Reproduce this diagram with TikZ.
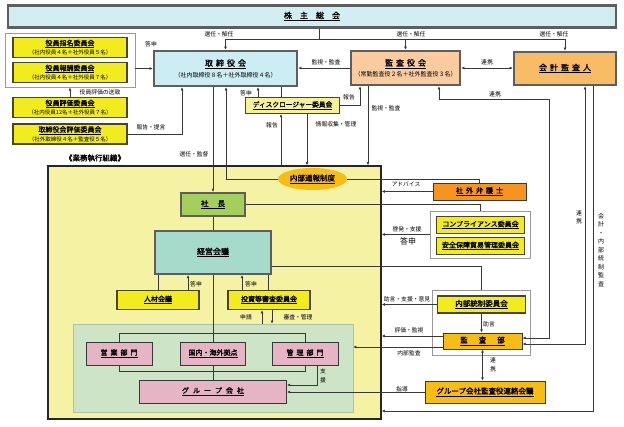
\documentclass[tikz,border=0pt]{standalone}
\usepackage{fontspec}
\setmainfont{Noto Sans CJK JP}[AutoFakeBold=1.6]
\usepackage{tikz}
\usepackage{xcolor}
\usetikzlibrary{arrows.meta,positioning,shapes.geometric}
\newcommand{\cgul}[1]{\underline{\bfseries #1}}
\newcommand{\cgsub}[2][5.5]{{\fontsize{#1}{#1}\selectfont #2}}
\newcommand{\cggap}[1][3pt]{\hspace{#1}}
\definecolor{cgEdge}{HTML}{5E5E5E}
\definecolor{cgLine}{HTML}{383838}
\definecolor{cgOlive}{HTML}{4B461C}
\definecolor{cgYellow}{HTML}{F2EC1F}
\definecolor{cgPale}{HTML}{F7F29A}
\definecolor{cgSky}{HTML}{D3EEF3}
\definecolor{cgBoard}{HTML}{CBEDF3}
\definecolor{cgPeach}{HTML}{FCCB9F}
\definecolor{cgApricot}{HTML}{F9BC66}
\definecolor{cgOrange}{HTML}{F7941F}
\definecolor{cgGold}{HTML}{F7BD16}
\definecolor{cgFrame}{HTML}{F5F2A4}
\definecolor{cgMint}{HTML}{CDE4C6}
\definecolor{cgLeaf}{HTML}{A5CF5C}
\definecolor{cgTeal}{HTML}{A6DBCB}
\definecolor{cgPink}{HTML}{E6B5C5}
\tikzset{
  boardBox/.style={draw=cgEdge, line width=2.3pt, align=center, inner sep=0pt, font=\fontsize{8}{10}\selectfont},
  cmteBox/.style={draw=cgOlive, line width=1.3pt, fill=cgYellow, align=center, inner sep=0pt, font=\fontsize{7}{9}\selectfont},
  unitBox/.style={draw=cgLine, line width=0.9pt, align=center, inner sep=0pt, font=\fontsize{7}{9}\selectfont},
  groupFrame/.style={draw=black!40, line width=0.8pt, fill=white, inner sep=0pt},
  flowArrow/.style={-{Latex[length=3.2pt,width=2.8pt]}, line width=0.6pt, draw=cgLine},
  flowBoth/.style={{Latex[length=3.2pt,width=2.8pt]}-{Latex[length=3.2pt,width=2.8pt]}, line width=0.6pt, draw=cgLine},
  flowLine/.style={line width=0.6pt, draw=cgLine},
  flowLabel/.style={font=\fontsize{5.8}{6.5}\selectfont, inner sep=0.5pt, align=center}
}
\begin{document}
\begin{tikzpicture}[x=1pt,y=-1pt]
  \useasboundingbox (0,0) rectangle (624,427);
  \node[draw=black!85, line width=1.3pt, fill=cgFrame, minimum width=333pt, minimum height=253pt, inner sep=0pt] (frame) at (214.5,292.5) {};
  \node[font=\fontsize{7.5}{9}\selectfont\bfseries, inner sep=0pt] (frameTitle) at (95,158) {《業務執行組織》};
  \node[draw=cgMint!85!black, line width=0.4pt, fill=cgMint, minimum width=280pt, minimum height=88pt, inner sep=0pt] (field) at (213,368) {};

  \node[boardBox, fill=cgSky, minimum width=608pt, minimum height=22pt] (soukai) at (312,16.5) {\cgul{株　主　総　会}};
  \node[groupFrame, minimum width=130pt, minimum height=54pt] (nomGrp) at (70,60) {};
  \node[cmteBox, minimum width=114pt, minimum height=20pt] (shimei) at (70,47.5) {\cgul{役員指名委員会}\\\cgsub{（社内役員４名＋社外役員５名）}};
  \node[cmteBox, minimum width=114pt, minimum height=20pt] (houshu) at (70,72.5) {\cgul{役員報酬委員会}\\\cgsub{（社内役員４名＋社外役員７名）}};
  \node[cmteBox, minimum width=114pt, minimum height=20pt] (hyouka) at (70,107.5) {\cgul{役員評価委員会}\\\cgsub{（社内役員12名＋社外役員７名）}};
  \node[cmteBox, minimum width=114pt, minimum height=20pt] (torihyouka) at (70,134) {\cgul{取締役会評価委員会}\\\cgsub{（社外取締役４名＋監査役５名）}};
  \node[boardBox, fill=cgBoard, minimum width=143pt, minimum height=35pt, font=\fontsize{8}{11}\selectfont] (tori) at (225.5,68.5) {\cgul{取\cggap 締\cggap 役\cggap 会}\\\cgsub[6]{（社内取締役８名＋社外取締役４名）}};
  \node[boardBox, fill=cgPeach, minimum width=109pt, minimum height=34pt, font=\fontsize{8}{10.5}\selectfont] (kansa) at (405.5,68) {\cgul{監\cggap 査\cggap 役\cggap 会}\\\cgsub[6]{（常勤監査役２名＋社外監査役３名）}};
  \node[boardBox, fill=cgApricot, minimum width=102pt, minimum height=33pt] (kaikei) at (565,68.5) {\cgul{会\cggap 計\cggap 監\cggap 査\cggap 人}};
  \node[cmteBox, fill=cgPale, line width=1.1pt, minimum width=94pt, minimum height=16pt, font=\fontsize{6.7}{8}\selectfont] (disc) at (292.5,105.5) {\cgul{ディスクロージャー委員会}};

  \node[ellipse, fill=cgGold, minimum width=69pt, minimum height=22pt, inner sep=0pt, font=\fontsize{7.5}{9}\selectfont] (tsuho) at (312.5,179) {\cgul{内部通報制度}};
  \node[boardBox, fill=cgLeaf, line width=2pt, minimum width=64pt, minimum height=23pt, font=\fontsize{7.5}{9}\selectfont] (shacho) at (213,204.5) {\cgul{社\cggap[9pt]長}};
  \node[boardBox, fill=cgTeal, line width=2pt, minimum width=116pt, minimum height=43pt] (keiei) at (213,252.5) {\cgul{経営会議}};
  \node[cmteBox, minimum width=82pt, minimum height=19pt] (jinzai) at (158,300) {\cgul{人材会議}};
  \node[cmteBox, minimum width=82pt, minimum height=19pt] (toushi) at (269,300) {\cgul{投資等審査委員会}};
  \node[unitBox, fill=cgPink, minimum width=66pt, minimum height=23pt] (eigyo) at (119,353.5) {\cgul{営\cggap 業\cggap 部\cggap 門}};
  \node[unitBox, fill=cgPink, minimum width=65pt, minimum height=23pt] (kyoten) at (213,353.5) {\cgul{国内・海外拠点}};
  \node[unitBox, fill=cgPink, minimum width=66pt, minimum height=23pt] (kanri) at (305,353.5) {\cgul{管\cggap 理\cggap 部\cggap 門}};
  \node[unitBox, fill=cgPink, minimum width=147pt, minimum height=23pt] (group) at (213,391.5) {\cgul{グ\cggap[4pt]ル\cggap[4pt]ー\cggap[4pt]プ\cggap[4pt]会\cggap[4pt]社}};

  \node[unitBox, fill=cgOrange, minimum width=93pt, minimum height=17pt] (bengo) at (479.5,191.5) {\cgul{社\cggap 外\cggap 弁\cggap 護\cggap 士}};
  \node[groupFrame, minimum width=100pt, minimum height=47pt] (compGrp) at (480,234.5) {};
  \node[cmteBox, minimum width=88pt, minimum height=17pt] (comp) at (480.5,225) {\cgul{コンプライアンス委員会}};
  \node[cmteBox, minimum width=88pt, minimum height=17pt] (anpo) at (480.5,246) {\cgul{安全保障貿易管理委員会}};
  \node[groupFrame, minimum width=98pt, minimum height=65pt] (naibuGrp) at (481,322.5) {};
  \node[cmteBox, minimum width=88pt, minimum height=17pt, font=\fontsize{7.5}{9}\selectfont] (naibu) at (481.5,304.5) {\cgul{内部統制委員会}};
  \node[unitBox, fill=cgGold, minimum width=79pt, minimum height=16pt, font=\fontsize{7.5}{9}\selectfont] (kansabu) at (482.5,341) {\cgul{監\cggap[11pt]査\cggap[11pt]部}};
  \node[unitBox, fill=cgGold, minimum width=120pt, minimum height=22pt, font=\fontsize{7.5}{9}\selectfont] (renraku) at (485,392) {\cgul{グループ会社監査役連絡会議}};

  \coordinate (busJ) at (319,39);
  \draw[flowLine] (soukai.south -| busJ) -- (busJ);
  \draw[flowLine] (busJ -| tori.north) -- (busJ -| kaikei.north);
  \draw[flowArrow] (busJ -| tori.north) -- (tori.north);
  \draw[flowArrow] (busJ -| kansa.north) -- (kansa.north);
  \draw[flowArrow] (busJ -| kaikei.north) -- (kaikei.north);

  \draw[flowArrow] (nomGrp.east |- tori.west) -- (tori.west);
  \draw[flowArrow] (hyouka.north) -- (nomGrp.south);
  \coordinate (laneTeigen) at (182,0);
  \draw[flowArrow] (torihyouka.east) -| (tori.south -| laneTeigen);

  \draw[flowArrow] (kansa.west) -- (kansa.west -| tori.east);
  \draw[flowBoth] (kansa.east) -- (kansa.east -| kaikei.west);

  \coordinate (laneDa) at (258,0);
  \coordinate (laneDb) at (281,0);
  \coordinate (laneDc) at (307,0);
  \coordinate (laneKr) at (360,0);
  \coordinate (laneKm) at (368,0);
  \draw[flowArrow] (disc.north -| laneDa) -- (tori.south -| laneDa);
  \draw[flowLine] (tori.south -| laneDb) -- (disc.north -| laneDb);
  \draw[flowArrow] (disc.east) -| (kansa.south -| laneKr);
  \draw[flowArrow] (frame.north -| laneDb) -- (disc.south -| laneDb);
  \draw[flowArrow] (disc.south -| laneDc) -- (frame.north -| laneDc);
  \draw[flowArrow] (kansa.south -| laneKm) -- (frame.north -| laneKm);

  \draw[flowArrow] (tori.south -| shacho.north) -- (shacho.north);
  \coordinate (laneTs) at (226,0);
  \draw[flowArrow] (tsuho.west) -| (tori.south -| laneTs);

  \draw[flowLine] (tsuho.east) -| (bengo.north);
  \draw[flowLine] (shacho.east) -| (compGrp.north);
  \coordinate (rowKe) at (0,266);
  \draw[flowLine] (keiei.east |- rowKe) -| (naibuGrp.north);
  \draw[flowArrow] (bengo.west) -- (bengo.west -| frame.east);
  \draw[flowArrow] (compGrp.west) -- (compGrp.west -| frame.east);
  \draw[flowArrow] (naibu.west) -- (naibu.west -| frame.east);
  \draw[flowArrow] (naibu.south) -- (naibu.south |- kansabu.north);
  \draw[flowArrow] ([yshift=5pt]kansabu.west) -- ([yshift=5pt]kansabu.west -| frame.east);
  \draw[flowArrow] ([yshift=-6pt]kansabu.west) -- ([yshift=-6pt]kansabu.west -| field.east);
  \draw[flowBoth] (kansabu.south) -- (kansabu.south |- renraku.north);
  \draw[flowArrow] (renraku.west) -- (renraku.west -| group.east);

  \coordinate (turnA) at (439,99);
  \coordinate (turnB) at (549,99);
  \draw[flowBoth] (kansa.south -| turnA) -- (turnA) -- (turnB) |- ([yshift=3pt]kansabu.east);
  \coordinate (laneK) at (585,0);
  \draw[flowBoth] (kaikei.south -| laneK) |- ([yshift=-3pt]kansabu.east);
  \coordinate (laneF) at (593,0);
  \coordinate (rowF) at (0,411);
  \draw[flowArrow] (kaikei.south -| laneF) |- (frame.east |- rowF);

  \draw[flowLine] (shacho.south) -- (keiei.north);
  \draw[flowLine] (keiei.south) -- (kyoten.north);
  \draw[flowLine] (kyoten.south) -- (group.north);
  \coordinate (laneJb) at (188,0);
  \coordinate (laneTa) at (242,0);
  \coordinate (laneTb) at (268,0);
  \coordinate (laneSa) at (262,0);
  \coordinate (laneSb) at (272,0);
  \draw[flowLine] (keiei.south -| jinzai.north) -- (jinzai.north);
  \draw[flowArrow] (jinzai.north -| laneJb) -- (keiei.south -| laneJb);
  \draw[flowArrow] (toushi.north -| laneTa) -- (keiei.south -| laneTa);
  \draw[flowLine] (keiei.south -| laneTb) -- (toushi.north -| laneTb);
  \draw[flowArrow] (field.north -| laneSa) -- (toushi.south -| laneSa);
  \draw[flowArrow] (toushi.south -| laneSb) -- (field.north -| laneSb);
  \coordinate (rowUp) at (0,333);
  \coordinate (rowDn) at (0,371);
  \draw[flowLine] (eigyo.north) -- (eigyo.north |- rowUp) -| (kanri.north);
  \draw[flowLine] (eigyo.south) -- (eigyo.south |- rowDn) -| (kanri.south);
  \coordinate (laneSh) at (317,0);
  \coordinate (rowSh) at (0,385);
  \draw[flowArrow] (kanri.south -| laneSh) |- (group.east |- rowSh);

  \node[flowLabel] (lbSenA) at (219,34.5) {選任・解任};
  \node[flowLabel] (lbSenB) at (411,34.5) {選任・解任};
  \node[flowLabel] (lbSenC) at (554,34.5) {選任・解任};
  \node[flowLabel] (lbAnsA) at (151,44) {答申};
  \node[flowLabel] (lbSoti) at (100,92) {役員評価の送致};
  \node[flowLabel] (lbTeigen) at (151,127) {報告・提言};
  \node[flowLabel] (lbWatchA) at (326,62) {監視・監査};
  \node[flowLabel] (lbLinkA) at (487,62) {連携};
  \node[flowLabel] (lbLinkB) at (495,94) {連携};
  \node[flowLabel] (lbRepA) at (349,97) {報告};
  \node[flowLabel] (lbWatchB) at (386,108) {監視・監査};
  \node[flowLabel] (lbInfo) at (336,124) {情報収集・管理};
  \node[flowLabel] (lbAnsB) at (246,93) {答申};
  \node[flowLabel] (lbRepB) at (272,125) {報告};
  \node[flowLabel] (lbSenD) at (194,154) {選任・監督};
  \node[flowLabel] (lbAdvice) at (406,184) {アドバイス};
  \node[flowLabel] (lbEdu) at (407,229) {啓発・支援};
  \node[flowLabel, font=\fontsize{8}{9}\selectfont] (lbAnsC) at (408,241) {答申};
  \node[flowLabel] (lbCouns) at (407,299) {助言・支援・意見};
  \node[flowLabel] (lbCounsB) at (489,324) {助言};
  \node[flowLabel] (lbEval) at (409,330) {評価・監視};
  \node[flowLabel] (lbAudit) at (409,353) {内部監査};
  \node[flowLabel, font=\fontsize{5.8}{8.5}\selectfont] (lbLinkC) at (493,365) {連\\携};
  \node[flowLabel] (lbGuide) at (402,389) {指導};
  \node[flowLabel, font=\fontsize{5.8}{9.5}\selectfont] (lbSupp) at (323,376) {支\\援};
  \node[flowLabel] (lbAnsD) at (196,284) {答申};
  \node[flowLabel] (lbAnsE) at (251,284) {答申};
  \node[flowLabel] (lbApply) at (246,317) {申請};
  \node[flowLabel] (lbReview) at (298,317) {審査・管理};
  \node[flowLabel, font=\fontsize{5.8}{8}\selectfont] (lbLinkD) at (579,217) {連\\携};
  \node[flowLabel, font=\fontsize{6}{8.5}\selectfont] (lbExt) at (601,250) {会\\計\\・\\内\\部\\統\\制\\監\\査};
\end{tikzpicture}
\end{document}
